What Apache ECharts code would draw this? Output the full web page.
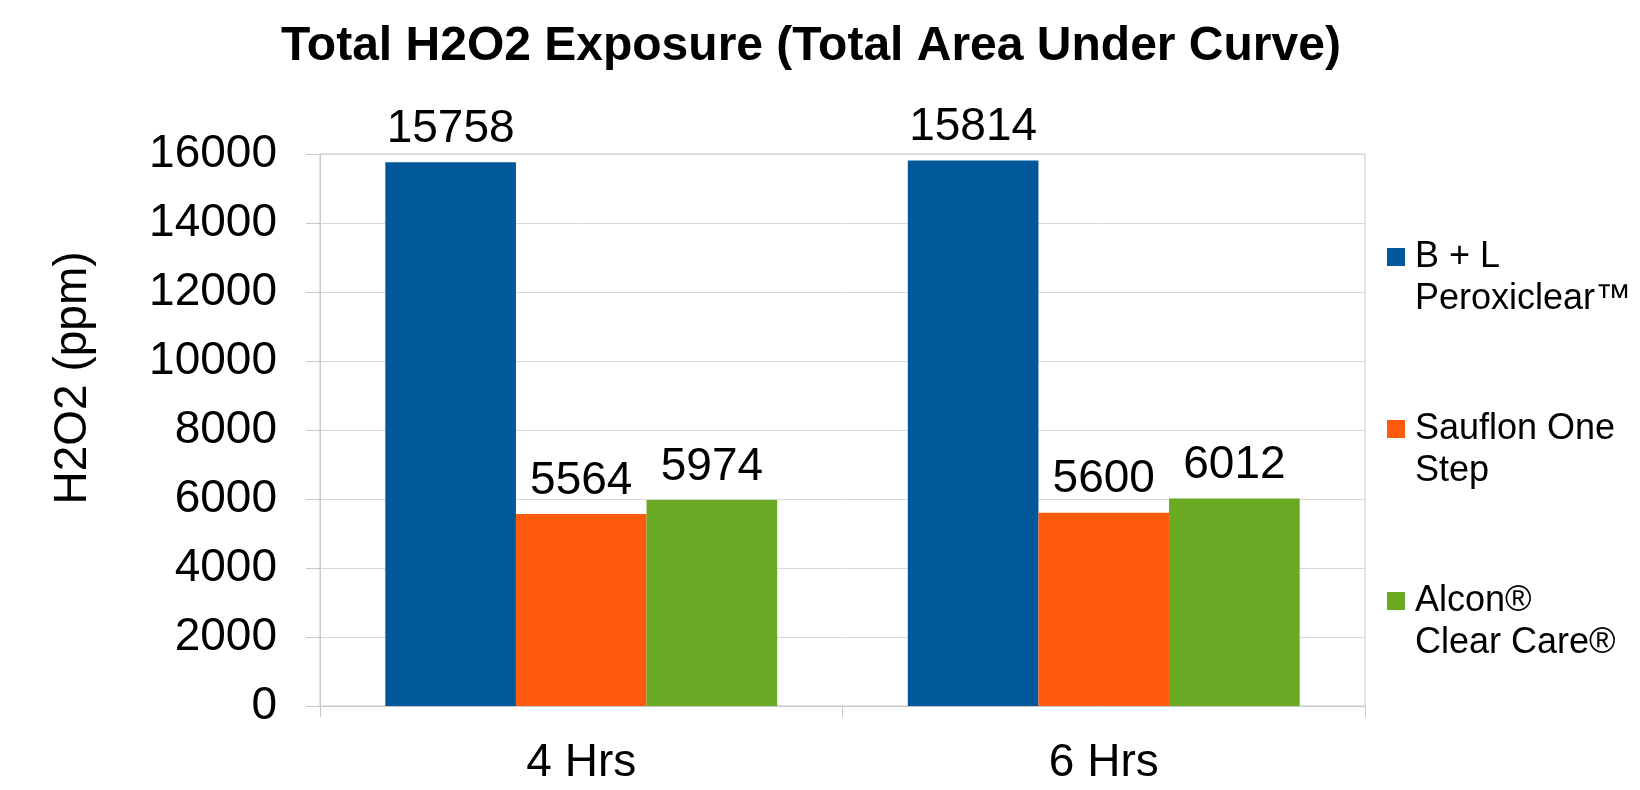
<!DOCTYPE html>
<html>
<head>
<meta charset="utf-8">
<title>Total H2O2 Exposure</title>
<script src="https://cdn.jsdelivr.net/npm/echarts@6/dist/echarts.min.js"></script>
<style>
  html, body { margin: 0; padding: 0; background: #fff; }
  #chart { width: 1640px; height: 790px; }
</style>
</head>
<body>
<div id="chart"></div>
<script>
// data
var categories = ['4 Hrs', '6 Hrs'];
var seriesNames = ['B + L Peroxiclear™', 'Sauflon One Step', 'Alcon® Clear Care®'];
var legendText = ['B + L\nPeroxiclear™', 'Sauflon One\nStep', 'Alcon®\nClear Care®'];
var peroxiclear = [15758, 15814];
var sauflon = [5564, 5600];
var clearCare = [5974, 6012];
var colors = ['#00589b', '#ff5b0f', '#69a923'];

var font = 'Liberation Sans, Arial, sans-serif';
var chart = echarts.init(document.getElementById('chart'));

function makeBar(idx, values) {
  return {
    name: seriesNames[idx],
    type: 'bar',
    data: values,
    barGap: '0%',
    barCategoryGap: '25%',
    itemStyle: { color: colors[idx] },
    label: {
      show: true,
      position: 'top',
      distance: 10,
      color: '#000',
      fontFamily: font,
      fontSize: 46
    }
  };
}

chart.setOption({
  backgroundColor: '#fff',
  animation: false,
  title: {
    text: 'Total H2O2 Exposure (Total Area Under Curve)',
    left: 806,
    textAlign: 'center',
    top: 18,
    textStyle: { fontFamily: font, fontSize: 48, fontWeight: 'bold', color: '#000' }
  },
  legend: {
    orient: 'vertical',
    left: 1382,
    top: 189,
    itemWidth: 18,
    itemHeight: 18,
    itemGap: 46,
    icon: 'rect',
    data: seriesNames,
    formatter: function (name) {
      return '\n' + legendText[seriesNames.indexOf(name)];
    },
    textStyle: { fontFamily: font, fontSize: 36, lineHeight: 42, color: '#000', padding: [0, 0, 0, 5] }
  },
  grid: {
    left: 320,
    right: 275,
    top: 154,
    bottom: 84,
    show: true,
    borderColor: '#c8c8c8',
    borderWidth: 1
  },
  xAxis: {
    type: 'category',
    data: categories,
    axisLine: { lineStyle: { color: '#c8c8c8', width: 1 } },
    axisTick: { show: true, length: 11, lineStyle: { color: '#c8c8c8' } },
    axisLabel: { margin: 34, color: '#000', fontFamily: font, fontSize: 46 }
  },
  yAxis: {
    type: 'value',
    min: 0,
    max: 16000,
    interval: 2000,
    name: 'H2O2 (ppm)',
    nameLocation: 'middle',
    nameGap: 224,
    nameTextStyle: { color: '#000', fontFamily: font, fontSize: 46, padding: [0, 0, 0, 104] },
    axisLine: { show: true, lineStyle: { color: '#c8c8c8', width: 1 } },
    axisTick: { show: true, length: 14, lineStyle: { color: '#c8c8c8' } },
    axisLabel: {
      margin: 43, color: '#000', fontFamily: font, fontSize: 46,
      formatter: function (v) { return String(v); }
    },
    splitLine: { lineStyle: { color: '#d9d9d9', width: 1 } }
  },
  series: [
    makeBar(0, peroxiclear),
    makeBar(1, sauflon),
    makeBar(2, clearCare)
  ]
});
</script>
</body>
</html>
